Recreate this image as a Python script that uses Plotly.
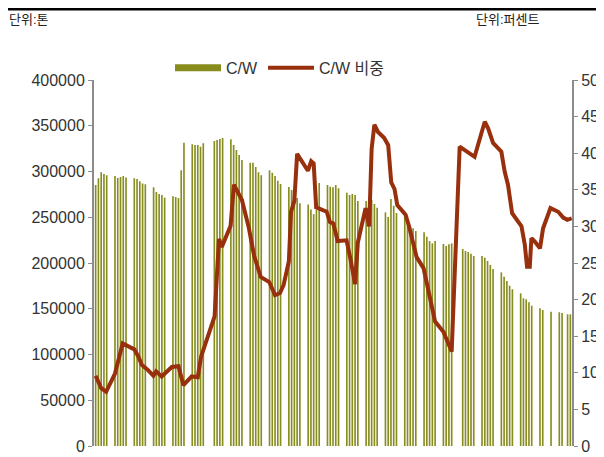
# %%
import plotly.graph_objects as go
from plotly.subplots import make_subplots

# %%
# trading days, counted in calendar days from the first Monday
cw_day = [
    0, 1, 2, 3, 4,
    7, 8, 9, 10, 11,
    14, 15, 16, 17, 18,
    21, 22, 23, 24, 25,
    28, 29, 30, 31, 32,
    35, 36, 37, 38, 39,
    43, 44, 45, 46,
    49, 50, 51, 52, 53,
    56, 57, 58, 59, 60,
    63, 64, 65, 66, 67,
    70, 71, 72, 73, 74,
    77, 78, 79, 80, 81,
    84, 85, 86, 87, 88,
    91, 92, 93, 94, 95,
    98, 99, 100, 101, 102,
    105, 106, 107, 108, 109,
    112, 113, 114, 115, 116,
    119, 120, 121, 122, 123,
    126, 127, 128, 129,
    133, 134, 135, 136, 137,
    140, 141, 142, 143, 144,
    147, 148, 149, 150, 151,
    154, 155, 156, 157, 158,
    161, 162, 165,
    168, 169, 171, 172,
]
cw_ton = [
    285200, 292600, 299100, 297300, 295800,
    295000, 293000, 294000, 295000, 293500,
    292600, 291800, 289300, 287000, 286000,
    282700, 277600, 275400, 274300, 271400,
    272900, 272100, 271000, 301300, 331500,
    329700, 329000, 329000, 327000, 330800,
    333300, 334400, 335500, 336600,
    335200, 329000, 323500, 318000, 312600,
    309600, 309600, 304900, 299100, 295800,
    301300, 298700, 295100, 290000, 286300,
    283000, 279800, 276000, 271000, 265200,
    264000, 258500, 253400, 258000, 287500,
    285200, 283400, 282700, 285200, 281600,
    276900, 274300, 275400, 274300, 267800,
    267800, 263400, 268900, 264500, 260400,
    255300, 250300, 270000, 262600, 254600,
    250600, 245200, 240800, 237900, 235000,
    233600, 228800, 224000, 221500, 224000,
    220800, 218600, 220400, 221500,
    215300, 213100, 212000, 210200, 207700,
    207700, 205800, 202200, 197800, 193400,
    189800, 185000, 180300, 175200, 171300,
    166900, 161400, 160300, 157000, 153300,
    150500, 148600, 146800,
    146200, 145400, 143900, 143900,
]

share_day = [
    0, 2, 3.8, 7, 9.8, 11, 14, 15.5, 16.7, 18.9, 20.9, 21.9, 23.9, 27.6,
    30, 31.8, 34.8, 37, 38.2, 43.1, 44.7, 45.7, 48.9, 50.1, 53, 55.5, 57.4,
    59.8, 62.9, 65, 66.8, 68.1, 70, 70.8, 72, 73, 75.1, 76.9, 78.1, 79,
    79.9, 83.7, 84.9, 86.1, 87.7, 90.9, 92.3, 94, 95, 97.8, 99.1, 100, 101,
    102.3, 104.5, 106, 107.1, 108.3, 109.3, 112.3, 113.5, 114.5, 116.3,
    118.8, 120.6, 123, 126, 127.6, 129, 131.9, 137.3, 139.9, 141, 142.2,
    144, 147, 148.2, 149.4, 150.9, 154.3, 155.5, 156.3, 157.3, 157.9,
    159.2, 161, 162.1, 164.8, 167.6, 169.4, 170.9, 172.5,
]
share_pct = [
    9.6, 7.9, 7.4, 9.9, 14.0, 13.8, 13.2, 12.2, 11.1, 10.4, 9.6, 10.2, 9.5,
    10.8, 10.9, 8.3, 9.5, 9.4, 12.2, 17.7, 28.3, 27.2, 30.1, 35.7, 33.6,
    29.8, 26.0, 23.1, 22.4, 20.6, 20.9, 22.0, 25.2, 32.0, 33.5, 39.9, 38.6,
    37.6, 38.9, 38.6, 32.6, 32.0, 30.6, 30.4, 28.0, 28.1, 25.6, 22.1, 27.8,
    32.5, 30.0, 40.6, 43.9, 42.9, 42.1, 41.1, 36.0, 35.1, 32.9, 31.6, 30.1,
    28.6, 25.8, 24.3, 21.3, 17.0, 15.6, 14.0, 12.9, 40.9, 39.5, 42.9, 44.3,
    43.4, 41.4, 40.2, 37.5, 35.7, 31.8, 30.0, 27.5, 24.5, 24.5, 28.4, 27.9,
    27.0, 29.7, 32.5, 32.0, 31.2, 30.9, 31.1,
]

# %%
olive = "#878c1c"
# near-opaque so plotly keeps the thin bars at their real width
olive_bar = "rgba(135,140,28,0.99)"
brown = "#98300e"
font = "Arial, 'Liberation Sans', 'Noto Sans CJK KR', sans-serif"

fig = make_subplots(specs=[[{"secondary_y": True}]])
fig.add_trace(
    go.Bar(x=cw_day, y=cw_ton, width=0.6, marker_color=olive_bar,
           marker_line_width=0, showlegend=False, name="C/W"),
    secondary_y=False,
)
# legend entry for the bars drawn as a thick band
fig.add_trace(
    go.Scatter(x=[None], y=[None], mode="lines", name="C/W",
               line=dict(color=olive, width=7)),
    secondary_y=False,
)
fig.add_trace(
    go.Scatter(x=share_day, y=share_pct, mode="lines", name="C/W 비중",
               line=dict(color=brown, width=4)),
    secondary_y=True,
)

axis_style = dict(
    showgrid=False, zeroline=False, showline=True, linecolor="#8c8c8c",
    linewidth=2, ticks="outside", ticklen=4, tickcolor="#8c8c8c",
    tickwidth=1, tickfont=dict(size=16, color="#333333"), automargin=False,
)
fig.update_yaxes(range=[0, 400000], dtick=50000, tickformat="d",
                 secondary_y=False, **axis_style)
fig.update_yaxes(range=[0, 50], dtick=5, secondary_y=True, **axis_style)
fig.update_xaxes(range=[-0.6, 172.6], domain=[0, 1], visible=False,
                 automargin=False)

# the page body adds an 8px offset, so margins are set 8px short
fig.update_layout(
    width=604, height=457,
    margin=dict(l=86, r=40, t=72, b=19),
    paper_bgcolor="white", plot_bgcolor="white",
    font=dict(family=font, color="#222222"),
    bargap=0.2,
    legend=dict(orientation="h", x=0.159, y=1.033, xanchor="left",
                yanchor="middle", itemwidth=46,
                font=dict(size=16, color="#333333"),
                bgcolor="rgba(0,0,0,0)"),
    shapes=[dict(type="line", xref="paper", yref="paper",
                 x0=-0.2, x1=1.1, y0=1.1933, y1=1.1933,
                 line=dict(color="black", width=2.5))],
    annotations=[
        dict(text="단위:톤", xref="paper", yref="paper", x=-0.1795, y=1.166,
             xanchor="left", yanchor="middle", showarrow=False, borderpad=0,
             font=dict(size=13, color="#222222")),
        dict(text="단위:퍼센트", xref="paper", yref="paper", x=0.797, y=1.166,
             xanchor="left", yanchor="middle", showarrow=False, borderpad=0,
             font=dict(size=13, color="#222222")),
    ],
)

fig.write_html("out.html")
